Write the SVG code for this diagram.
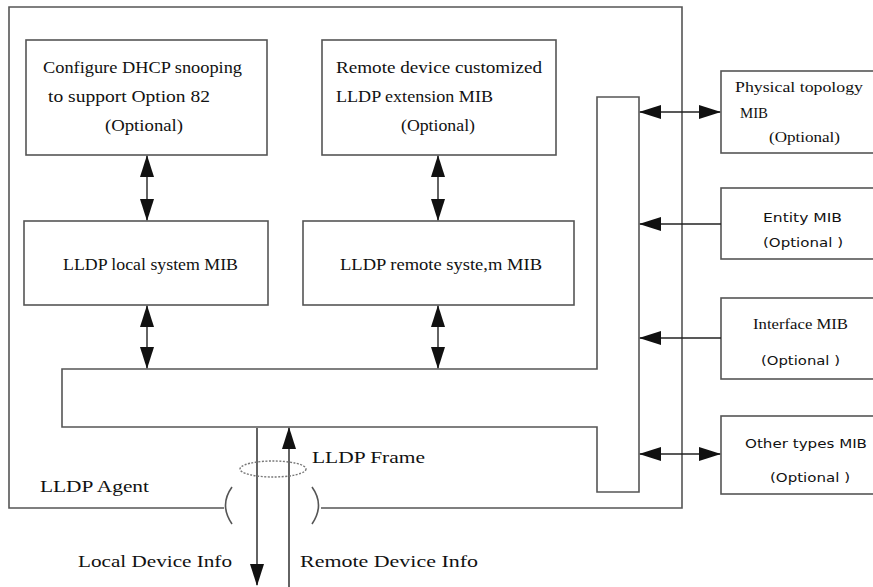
<svg xmlns="http://www.w3.org/2000/svg" width="873" height="587" viewBox="0 0 873 587">
<style>
.box{fill:#fff;stroke:#555;stroke-width:1.6}
.ln{fill:none;stroke:#222;stroke-width:1.4}
.gl{fill:none;stroke:#555;stroke-width:1.6}
.t{font-family:'Liberation Serif','DejaVu Serif',serif;font-size:17px;fill:#111}
.s{font-family:'DejaVu Sans','Liberation Sans',sans-serif;font-size:13px;fill:#111}
.ts{font-family:'Liberation Serif','DejaVu Serif',serif;font-size:15px;fill:#111}
</style>
<defs>
<marker id="ah" markerWidth="22" markerHeight="14" refX="21" refY="7" orient="auto-start-reverse" markerUnits="userSpaceOnUse" overflow="visible">
<path d="M0,0 L22,7 L0,14 z" fill="#111"/>
</marker>
</defs>
<rect width="873" height="587" fill="#fff"/>
<g id="agent">
<path class="gl" d="M224 508 H9 V7 H682 V508 H321"/>
<path class="gl" d="M232 487 Q219 505 232 524"/>
<path class="gl" d="M312 487 Q325 505 312 524"/>
<text class="t" x="40" y="492" textLength="109" lengthAdjust="spacingAndGlyphs">LLDP Agent</text>
</g>
<g id="dhcp">
<rect class="box" x="26" y="40" width="241" height="115"/>
<text class="t" x="43" y="73" textLength="199" lengthAdjust="spacingAndGlyphs">Configure DHCP snooping</text>
<text class="t" x="48" y="102" textLength="162" lengthAdjust="spacingAndGlyphs">to support Option 82</text>
<text class="t" x="105" y="131" textLength="78" lengthAdjust="spacingAndGlyphs">(Optional)</text>
</g>
<g id="remote-ext">
<rect class="box" x="322" y="40" width="234" height="115"/>
<text class="t" x="336" y="73" textLength="206" lengthAdjust="spacingAndGlyphs">Remote device customized</text>
<text class="t" x="336" y="102" textLength="157" lengthAdjust="spacingAndGlyphs">LLDP extension MIB</text>
<text class="t" x="401" y="131" textLength="74" lengthAdjust="spacingAndGlyphs">(Optional)</text>
</g>
<g id="local-mib">
<rect class="box" x="24" y="221" width="244" height="84"/>
<text class="t" x="63" y="270" textLength="175" lengthAdjust="spacingAndGlyphs">LLDP local system MIB</text>
</g>
<g id="remote-mib">
<rect class="box" x="303" y="221" width="271" height="84"/>
<text class="t" x="340" y="270" textLength="202" lengthAdjust="spacingAndGlyphs">LLDP remote syste,m MIB</text>
</g>
<g id="bus">
<path class="box" d="M62 369 H597 V97 H639 V492 H597 V427 H62 Z"/>
</g>
<g id="phys">
<rect class="box" x="721" y="71" width="160" height="82"/>
<text class="ts" x="735" y="92" textLength="128" lengthAdjust="spacingAndGlyphs">Physical topology</text>
<text class="ts" x="740" y="118" textLength="28" lengthAdjust="spacingAndGlyphs">MIB</text>
<text class="ts" x="769" y="142" textLength="71" lengthAdjust="spacingAndGlyphs">(Optional)</text>
</g>
<g id="entity">
<rect class="box" x="721" y="188" width="160" height="71"/>
<text class="s" x="763" y="222" textLength="79" lengthAdjust="spacingAndGlyphs">Entity MIB</text>
<text class="s" x="763" y="247" textLength="80" lengthAdjust="spacingAndGlyphs">(Optional )</text>
</g>
<g id="interface">
<rect class="box" x="721" y="298" width="160" height="81"/>
<text class="ts" x="753" y="329" textLength="95" lengthAdjust="spacingAndGlyphs">Interface MIB</text>
<text class="s" x="761" y="365" textLength="79" lengthAdjust="spacingAndGlyphs">(Optional )</text>
</g>
<g id="other">
<rect class="box" x="721" y="416" width="160" height="78"/>
<text class="s" x="745" y="448" textLength="122" lengthAdjust="spacingAndGlyphs">Other types MIB</text>
<text class="s" x="770" y="482" textLength="80" lengthAdjust="spacingAndGlyphs">(Optional )</text>
</g>
<g id="connectors">
<line class="ln" x1="147" y1="156" x2="147" y2="220" marker-start="url(#ah)" marker-end="url(#ah)"/>
<line class="ln" x1="438" y1="156" x2="438" y2="220" marker-start="url(#ah)" marker-end="url(#ah)"/>
<line class="ln" x1="147" y1="306" x2="147" y2="368" marker-start="url(#ah)" marker-end="url(#ah)"/>
<line class="ln" x1="438" y1="306" x2="438" y2="368" marker-start="url(#ah)" marker-end="url(#ah)"/>
<line class="ln" x1="640" y1="112" x2="720" y2="112" marker-start="url(#ah)" marker-end="url(#ah)"/>
<line class="ln" x1="721" y1="224" x2="640" y2="224" marker-end="url(#ah)"/>
<line class="ln" x1="721" y1="338" x2="640" y2="338" marker-end="url(#ah)"/>
<line class="ln" x1="640" y1="454" x2="720" y2="454" marker-start="url(#ah)" marker-end="url(#ah)"/>
<line class="ln" x1="257" y1="428" x2="257" y2="585" marker-end="url(#ah)"/>
<line class="ln" x1="289" y1="590" x2="289" y2="428" marker-end="url(#ah)"/>
<ellipse cx="273" cy="469" rx="33" ry="8" fill="none" stroke="#777" stroke-width="1.4" stroke-dasharray="2,1.5"/>
<text class="t" x="312" y="463" textLength="113" lengthAdjust="spacingAndGlyphs">LLDP Frame</text>
<text class="t" x="78" y="567" textLength="154" lengthAdjust="spacingAndGlyphs">Local Device Info</text>
<text class="t" x="300" y="567" textLength="178" lengthAdjust="spacingAndGlyphs">Remote Device Info</text>
</g>
</svg>
